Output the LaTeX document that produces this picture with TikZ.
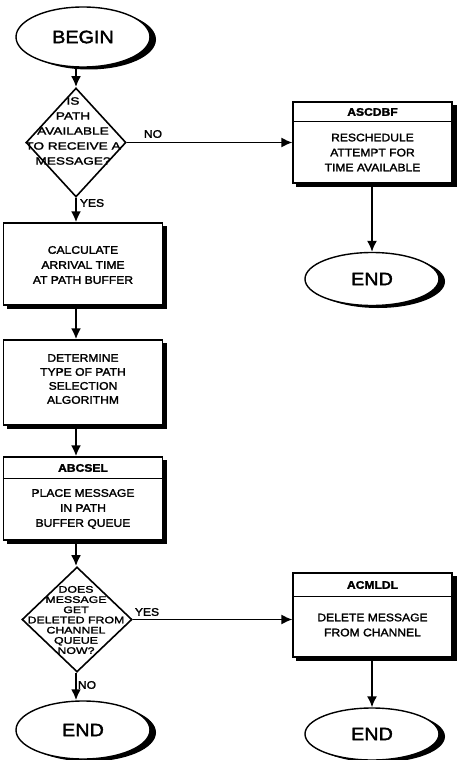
\documentclass[tikz,border=0pt]{standalone}
\usepackage{fontspec}
\setmainfont{Liberation Sans}
\newfontfamily\plotfont[FakeStretch=1.1,FakeBold=2]{Liberation Sans}
\newfontfamily\diafont[FakeStretch=1.3,FakeBold=2]{Liberation Sans}
\usetikzlibrary{shapes.geometric,arrows.meta}
\pgfdeclarelayer{shade}
\pgfsetlayers{shade,main}

\begin{document}
\begin{tikzpicture}[x=1pt,y=-1pt,
  term/.style={ellipse,draw,line width=1.4pt,fill=white,inner sep=0pt,
    minimum width=134pt,font=\plotfont\fontsize{18}{18}\selectfont},
  proc/.style={rectangle,draw,line width=1.2pt,fill=white,inner sep=0pt,
    minimum width=159pt},
  decision/.style={diamond,draw,line width=1.6pt,inner sep=0pt},
  boxtext/.style={align=center,font=\plotfont\fontsize{11}{15}\selectfont},
  titletext/.style={font=\plotfont\bfseries\fontsize{11}{13}\selectfont},
  condtext/.style={font=\plotfont\fontsize{11}{13}\selectfont},
  flow/.style={line width=2.6pt,-{Latex[length=11pt,width=10pt]}},
  flowthin/.style={line width=1.6pt,-{Latex[length=11pt,width=10pt]}}
]
\useasboundingbox (0,0) rectangle (459,760);

% left column
\node[term,minimum height=60pt] (begin) at (83,37) {BEGIN};
\node[decision,minimum width=100pt,minimum height=109pt] (d1) at (76,142.5) {};
\node[align=center,font=\diafont\fontsize{10.5}{15}\selectfont] (d1t) at (73,131) {IS\\PATH\\AVAILABLE\\TO RECEIVE A\\MESSAGE?};
\node[proc,minimum height=82pt] (calc) at (83,264) {};
\node[boxtext] (calct) at (83,265) {CALCULATE\\ARRIVAL TIME\\AT PATH BUFFER};
\node[proc,minimum height=85pt] (determ) at (83,382.5) {};
\node[boxtext,font=\plotfont\fontsize{11}{14}\selectfont] (determt) at (83,379) {DETERMINE\\TYPE OF PATH\\SELECTION\\ALGORITHM};
\node[proc,minimum height=83pt] (abcsel) at (83,498.5) {};
\draw[line width=1.2pt] ([yshift=-22pt]abcsel.north west) -- ([yshift=-22pt]abcsel.north east);
\node[titletext] (abcselt) at (83,468) {ABCSEL};
\node[boxtext] (abcselb) at (83,509) {PLACE MESSAGE\\IN PATH\\BUFFER QUEUE};
\node[decision,minimum width=110pt,minimum height=105pt] (d2) at (77,619.5) {};
\node[align=center,font=\diafont\fontsize{9.5}{10.2}\selectfont] (d2t) at (76,620) {DOES\\MESSAGE\\GET\\DELETED FROM\\CHANNEL\\QUEUE\\NOW?};
\node[term,minimum height=58pt] (end1) at (83,730) {END};

% right column
\node[proc,minimum height=81pt] (ascdbf) at (372.5,142.5) {};
\draw[line width=1.2pt] ([yshift=-20pt]ascdbf.north west) -- ([yshift=-20pt]ascdbf.north east);
\node[titletext] (ascdbft) at (372.5,112) {ASCDBF};
\node[boxtext] (ascdbfb) at (372.5,152.5) {RESCHEDULE\\ATTEMPT FOR\\TIME AVAILABLE};
\node[term,minimum height=53pt] (end2) at (372,279) {END};
\node[proc,minimum height=84pt] (acmldl) at (372.5,615) {};
\draw[line width=1.2pt] ([yshift=-24pt]acmldl.north west) -- ([yshift=-24pt]acmldl.north east);
\node[titletext] (acmldlt) at (372.5,585) {ACMLDL};
\node[boxtext] (acmldlb) at (372.5,625) {DELETE MESSAGE\\FROM CHANNEL};
\node[term,minimum height=52pt] (end3) at (372,734) {END};

% heavy edges behind boxes and ovals
\begin{pgfonlayer}{shade}
\foreach \b in {calc,determ,abcsel,ascdbf,acmldl}
  \fill ([shift={(4pt,-3.5pt)}]\b.south west) rectangle ([shift={(4pt,-3.5pt)}]\b.north east);
\fill ([shift={(6pt,-2.5pt)}]begin.center) ellipse [x radius=67pt,y radius=30pt];
\fill ([shift={(6pt,-2.5pt)}]end1.center) ellipse [x radius=67pt,y radius=29pt];
\fill ([shift={(6pt,-2.5pt)}]end2.center) ellipse [x radius=67pt,y radius=26.5pt];
\fill ([shift={(6pt,-2.5pt)}]end3.center) ellipse [x radius=67pt,y radius=26pt];
\end{pgfonlayer}

% connectors
\draw[flow] (begin.south -| d1.north) -- (d1.north);
\draw[flow] (d1.south) -- (d1.south |- calc.north);
\draw[flow] (calc.south -| d1.south) -- (determ.north -| d1.south);
\draw[flow] (determ.south -| d1.south) -- (abcsel.north -| d1.south);
\draw[flow] (abcsel.south -| d1.south) -- (d2.north -| d1.south);
\draw[flow] (d2.south -| d1.south) -- (end1.north -| d1.south);
\draw[flowthin] (d1.east) -- (d1.east -| ascdbf.west);
\draw[flowthin] (ascdbf.south -| end2.north) -- (end2.north);
\draw[flowthin] (d2.east) -- (d2.east -| acmldl.west);
\draw[flowthin] (acmldl.south -| end3.north) -- (end3.north);

% labels
\node[condtext] (no1) at (153,134) {NO};
\node[condtext] (yes1) at (92,203) {YES};
\node[condtext] (yes2) at (147,612) {YES};
\node[condtext] (no2) at (87,685) {NO};
\end{tikzpicture}
\end{document}
